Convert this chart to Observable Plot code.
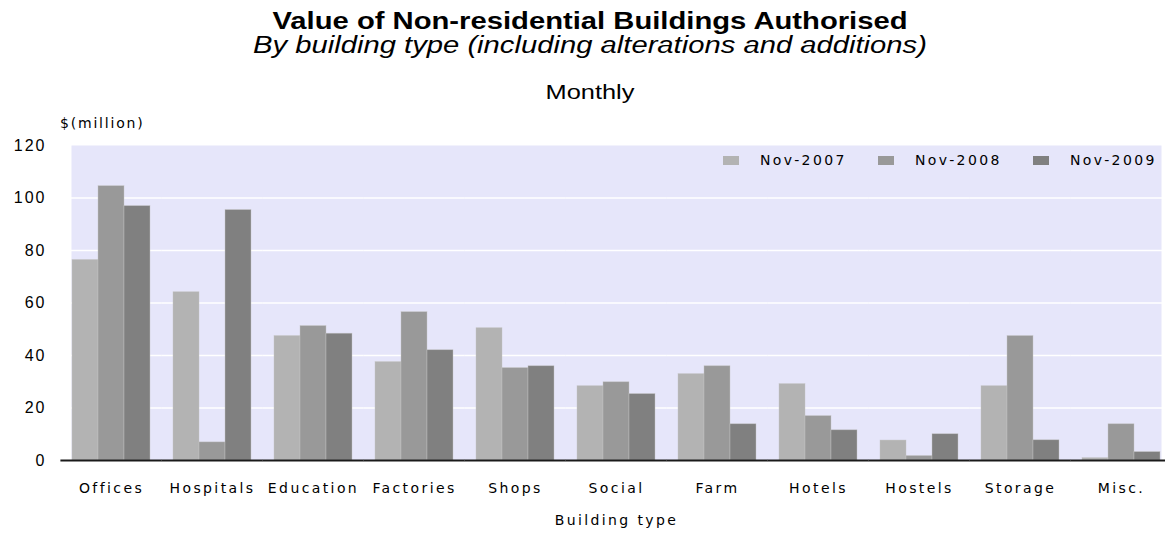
<!DOCTYPE html>
<html><head><meta charset="utf-8">
<script src="https://cdn.jsdelivr.net/npm/d3@7"></script>
<script src="https://cdn.jsdelivr.net/npm/@observablehq/plot@0.6"></script>
<style>
body{margin:0;background:#fff;}
#wrap{position:relative;width:1165px;height:533px;overflow:hidden;font-family:"Liberation Sans",Arial,sans-serif;}
.t{position:absolute;left:0;width:1180px;text-align:center;transform:scaleX(1.27);transform-origin:590px 0;white-space:nowrap;color:#000;}
#title{top:11px;font-size:23px;line-height:21px;font-weight:bold;}
#sub{top:35px;font-size:23px;line-height:21px;font-style:italic;}
#monthly{top:82px;font-size:20px;line-height:20px;}
#chart{position:absolute;left:0;top:110px;}
#ylab{position:absolute;left:60px;top:116px;font-family:"DejaVu Sans";font-size:14px;line-height:14px;letter-spacing:1.8px;white-space:nowrap;}
#legend{position:absolute;left:723px;top:152px;display:flex;}
.item{display:flex;align-items:center;width:155px;height:16px;}
.sw{width:16px;height:9px;margin-right:21px;flex:none;}
.lt{font-family:"DejaVu Sans";font-size:14px;letter-spacing:2.4px;line-height:16px;white-space:nowrap;}
#chart g[aria-label="y-axis tick label"]{font-family:"Liberation Sans",Arial,sans-serif;letter-spacing:2px;}
</style>
</head><body>
<div id="wrap">
  <div class="t" id="title">Value of Non-residential Buildings Authorised</div>
  <div class="t" id="sub">By building type (including alterations and additions)</div>
  <div class="t" id="monthly">Monthly</div>
  <div id="chart"></div>
  <div id="ylab">$(million)</div>
  <div id="legend"></div>
</div>
<script>
const categories = ["Offices","Hospitals","Education","Factories","Shops","Social","Farm","Hotels","Hostels","Storage","Misc."];
const series = ["Nov-2007","Nov-2008","Nov-2009"];
const nov2007 = [76.4, 64.1, 47.4, 37.5, 50.4, 28.3, 32.9, 29.1, 7.6, 28.3, 0.9];
const nov2008 = [104.5, 6.9, 51.2, 56.5, 35.2, 29.8, 35.9, 16.9, 1.7, 47.4, 13.8];
const nov2009 = [96.9, 95.4, 48.3, 42.0, 35.9, 25.3, 13.8, 11.5, 10.0, 7.7, 3.2];
const colors = ["#b3b3b3","#999999","#808080"];
const yTicks = [0,20,40,60,80,100,120];

const valuesBySeries = [nov2007, nov2008, nov2009];
const data = [];
categories.forEach((c, i) => {
  series.forEach((s, j) => data.push({category: c, series: s, value: valuesBySeries[j][i]}));
});

// half of the gap between facet groups, so rules run continuously across groups
const seam = -10.6;

const chart = Plot.plot({
  width: 1165, height: 423,
  marginTop: 35, marginBottom: 73, marginLeft: 60, marginRight: 0,
  style: {fontFamily: "DejaVu Sans", fontSize: "14px", letterSpacing: "2.4px", color: "#000", background: "transparent", overflow: "visible"},
  fx: {domain: categories, paddingInner: 0.21, paddingOuter: 0.07, align: 0.71},
  x: {domain: series, padding: 0, axis: null},
  y: {domain: [0, 120]},
  color: {domain: series, range: colors},
  marks: [
    Plot.frame({fill: "#e6e6fa", stroke: null, facet: "super"}),
    Plot.ruleY(yTicks.filter(d => d > 0 && d < 120), {stroke: "#fff", strokeWidth: 1.5, insetLeft: seam, insetRight: seam}),
    Plot.barY(data, {fx: "category", x: "series", y: "value", fill: "series", stroke: "#c4c4c4", strokeWidth: 0.6, strokeOpacity: 0.7}),
    Plot.ruleY([0], {stroke: "#1a1a1a", strokeWidth: 2, insetLeft: seam, insetRight: seam}),
    Plot.axisY({ticks: yTicks, tickSize: 0, tickPadding: 25, label: null, fontSize: 16}),
    Plot.axisFx({anchor: "bottom", tickSize: 0, tickPadding: 23, label: "Building type", labelAnchor: "center", labelArrow: "none", labelOffset: 64})
  ]
});
document.getElementById("chart").appendChild(chart);

const legend = document.getElementById("legend");
series.forEach((s, j) => {
  const it = document.createElement("div"); it.className = "item";
  const sw = document.createElement("div"); sw.className = "sw"; sw.style.background = colors[j];
  const lt = document.createElement("div"); lt.className = "lt"; lt.textContent = s;
  it.appendChild(sw); it.appendChild(lt); legend.appendChild(it);
});
</script>
</body></html>
